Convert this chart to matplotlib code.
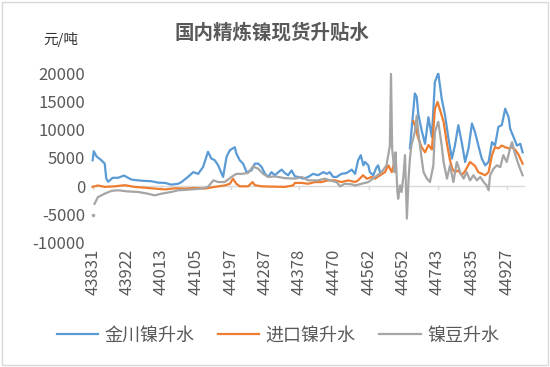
import numpy as np
import matplotlib
matplotlib.use("Agg")
import matplotlib.pyplot as plt
from matplotlib.patches import Rectangle

plt.rcParams['font.family'] = ['Noto Sans CJK SC', 'DejaVu Sans']
plt.rcParams['axes.unicode_minus'] = False

nan = np.nan

# Excel date serials and spread values (元/吨)
jc_x = [43831, 43834, 43841, 43854, 43863, 43867, 43872, 43884, 43898, 43914, 43933, 43951,
        43969, 43986, 44004, 44022, 44039, 44057, 44066, 44083, 44097, 44110, 44123, 44136,
        44145, 44154, 44163, 44176, 44185, 44194, 44202, 44207, 44211, 44220, 44229, 44238,
        44251, 44260, 44269, 44278, 44286, 44295, 44304, 44313, 44322, 44331, 44339, 44348,
        44357, 44366, 44375, 44388, 44401, 44414, 44427, 44441, 44450, 44458, 44467, 44476,
        44489, 44503, 44516, 44525, 44533, 44540, 44547, 44551, 44560, 44564, 44573, 44582,
        44586, 44591, 44620, 44670, 44683, 44688, 44692, 44701, 44710, 44719, 44728, 44736,
        44745, 44754, 44763, 44772, 44781, 44789, 44798, 44807, 44816, 44825, 44834, 44842,
        44851, 44860, 44869, 44878, 44887, 44895, 44904, 44913, 44922, 44931, 44935, 44944,
        44953, 44962, 44968]
jc_y = [4600, 6200, 5300, 4600, 4000, 1400, 800, 1500, 1500, 1900, 1200, 1050,
        950, 900, 650, 600, 300, 450, 750, 1650, 2500, 2200, 3400, 6100,
        4900, 4600, 3700, 1650, 5200, 6400, 6700, 6900, 5800, 4600, 4000, 2500,
        2800, 4000, 4000, 3400, 2300, 1650, 2500, 1950, 2500, 2950, 2350, 1950,
        2800, 1750, 1650, 1350, 1650, 2200, 1950, 2500, 2200, 2500, 1650, 1650,
        2200, 2350, 2950, 2200, 4600, 5500, 3700, 4300, 3700, 2500, 1950, 3400,
        3700, 2500, nan, 6700, 16400, 15800, 12800, 9900, 7500, 12200, 8700, 18400,
        20000, 15500, 12500, 8400, 4900, 7200, 10800, 7800, 4300, 6700, 11100, 9600,
        7200, 4900, 3700, 4300, 7800, 7200, 10500, 10800, 13700, 12200, 10200, 8700,
        7200, 7500, 6000]

jk_x = [43831, 43845, 43863, 43889, 43916, 43942, 43969, 43995, 44022, 44048, 44075, 44101,
        44128, 44154, 44180, 44194, 44202, 44211, 44220, 44242, 44254, 44260, 44278, 44300,
        44339, 44361, 44366, 44384, 44401, 44419, 44436, 44454, 44472, 44489, 44507, 44525,
        44533, 44546, 44556, 44569, 44578, 44591, 44604, 44613, 44622, 44629, 44650, 44679,
        44683, 44692, 44701, 44710, 44719, 44728, 44736, 44743, 44750, 44759, 44768, 44776,
        44782, 44789, 44798, 44807, 44816, 44829, 44842, 44851, 44869, 44878, 44887, 44895,
        44904, 44913, 44922, 44931, 44940, 44949, 44958, 44968]
jk_y = [-100, 150, -100, 0, 200, -100, -250, -400, -550, -350, -400, -300,
        -400, -100, 150, 450, 1350, 450, 0, 0, 750, 200, 0, -50,
        -100, 150, 600, 600, 450, 750, 750, 1050, 1050, 750, 1050, 750,
        1050, 1950, 1350, 1650, 1350, 1950, 2500, 3700, 2500, 4300, nan, 11500,
        10800, 8500, 6900, 6000, 7300, 6500, 13600, 14900, 13400, 11400, 7500, 4600,
        3100, 2500, 2800, 1950, 2700, 4300, 3600, 2500, 1950, 2500, 5500, 6900,
        6700, 7200, 6900, 6700, 6900, 6400, 5500, 4000]

nd_x = [43831, 43833, 43836, 43845, 43863, 43881, 43898, 43924, 43951, 43977, 43995, 44013,
        44039, 44057, 44083, 44119, 44136, 44150, 44163, 44180, 44198, 44211, 44225, 44242,
        44255, 44269, 44282, 44295, 44313, 44339, 44366, 44384, 44401, 44427, 44445, 44458,
        44476, 44485, 44498, 44516, 44525, 44542, 44560, 44578, 44595, 44608, 44617, 44620,
        44623, 44629, 44632, 44637, 44639, 44644, 44648, 44653, 44657, 44662, 44666, 44670,
        44674, 44683, 44688, 44692, 44701, 44706, 44715, 44723, 44732, 44736, 44745, 44754,
        44759, 44768, 44776, 44785, 44794, 44803, 44812, 44820, 44829, 44838, 44847, 44856,
        44865, 44873, 44878, 44882, 44891, 44900, 44909, 44917, 44926, 44935, 44940, 44949,
        44958, 44968]
nd_y = [-5100, nan, -3100, -1900, -1300, -800, -700, -900, -1000, -1300, -1600, -1300,
        -1000, -700, -600, -400, -100, 1050, 750, 750, 1650, 2200, 2200, 2350,
        3500, 3100, 2200, 1650, 1750, 1450, 1350, 1650, 1050, 1050, 1350, 1050,
        750, 0, 450, 350, 150, 450, 750, 1650, 2500, 3700, 7200, 19900,
        6700, 2500, 6000, -1000, -2200, 150, -1000, 1950, 5500, -5700, 750, 4900,
        7200, 9600, 12500, 9600, 4900, 2500, 1350, 750, 3700, 9600, 11400, 7200,
        4300, 1350, 3700, 750, 4300, 2500, 1350, 2500, 1050, 1950, 1050, 1650,
        750, 150, -700, 1950, 3100, 3700, 3400, 5500, 4300, 6700, 7800, 5500,
        3700, 1950]

x_ticks = [43831, 43922, 44013, 44105, 44197, 44287, 44378, 44470, 44562, 44652, 44743, 44835, 44927]
y_ticks = [-10000, -5000, 0, 5000, 10000, 15000, 20000]

names = ['金川镍升水', '进口镍升水', '镍豆升水']
colors = ['#5B9BD5', '#ED7D31', '#A5A5A5']
txt = '#595959'

fig = plt.figure(figsize=(5.5, 3.67), dpi=100)
fig.patches.append(Rectangle((0.004, 0.006), 0.992, 0.988, transform=fig.transFigure,
                             fill=False, edgecolor='#D9D9D9', lw=1))
ax = fig.add_axes([0.165, 0.338, 0.79, 0.463])

ax.plot(jc_x, jc_y, color=colors[0], lw=1.6, label=names[0])
ax.plot(jk_x, jk_y, color=colors[1], lw=1.6, label=names[1])
ax.plot(nd_x, nd_y, color=colors[2], lw=1.6, label=names[2])
ax.plot(nd_x[:1], nd_y[:1], 'o', ms=1.5, color=colors[2])

ax.set_xlim(43826, 44975)
ax.set_ylim(-10000, 20000)
ax.axhline(0, color='#D9D9D9', lw=1, zorder=0)
for t in x_ticks[::2]:
    ax.plot([t, t], [0, -450], color='#D9D9D9', lw=1, zorder=0)

for s in ax.spines.values():
    s.set_visible(False)
ax.set_xticks(x_ticks)
ax.set_xticklabels([str(t) for t in x_ticks], rotation=90, fontsize=12, color=txt)
ax.set_yticks(y_ticks)
ax.set_yticklabels([str(t) for t in y_ticks], fontsize=12, color=txt)
ax.tick_params(length=0, pad=4)

fig.text(0.495, 0.91, '国内精炼镍现货升贴水', ha='center', va='center', fontsize=14,
         color=txt, fontweight='bold')
fig.text(0.11, 0.893, '元/吨', ha='center', va='center', fontsize=10.5, color='#333333')

leg = fig.legend(loc='center', bbox_to_anchor=(0.505, 0.085), ncol=3, frameon=False,
                 fontsize=13, handlelength=2.3, columnspacing=1.3, handletextpad=0.35)
for t in leg.get_texts():
    t.set_color(txt)

fig.savefig('out.png', dpi=100)
